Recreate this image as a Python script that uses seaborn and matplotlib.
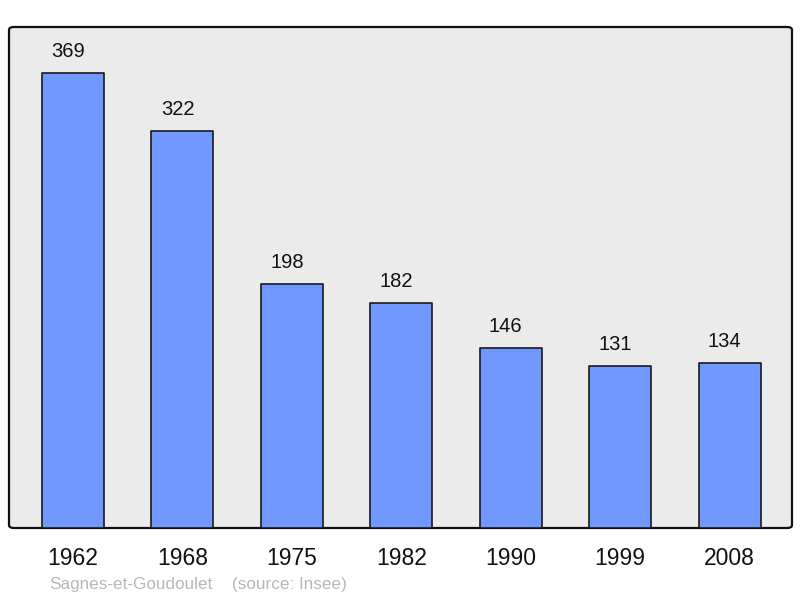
import matplotlib
matplotlib.use("Agg")
import matplotlib.pyplot as plt
import seaborn as sns
import pandas as pd
from matplotlib.patches import FancyBboxPatch

# data
years = ["1962", "1968", "1975", "1982", "1990", "1999", "2008"]
population = [369, 322, 198, 182, 146, 131, 134]
commune = "Sagnes-et-Goudoulet"
source = "(source: Insee)"

df = pd.DataFrame({"year": years, "pop": population})

sns.set_style("white")
plt.rcParams["font.family"] = ["Liberation Sans", "DejaVu Sans"]

fig = plt.figure(figsize=(8, 5.98), dpi=100)
ax = fig.add_axes([9 / 800, 1 - 528 / 598, 783 / 800, 501 / 598])
ax.set_facecolor("none")

# background frame with rounded corners
frame = FancyBboxPatch((0, 0), 1, 1, boxstyle="round,pad=0,rounding_size=0.006",
                       transform=ax.transAxes, facecolor="#ebebeb",
                       edgecolor="#111111", linewidth=1.6, zorder=0, clip_on=False)
ax.add_patch(frame)

sns.barplot(data=df, x="year", y="pop", color="#7098ff", saturation=1,
            width=0.567, edgecolor="#1a1a1a", linewidth=1.2, ax=ax, zorder=2)
for p in ax.patches[1:]:
    p.set_joinstyle("round")

for i, v in enumerate(population):
    ax.text(i - 0.045, v + 17.5, str(v), ha="center", va="center", fontsize=14.5, color="#111111")

ax.set_xlim(-0.585, 6.571)
ax.set_ylim(0, 406)
ax.set_xlabel("")
ax.set_ylabel("")
ax.set_yticks([])
ax.tick_params(axis="x", length=0, pad=14, labelsize=16.5, labelcolor="#111111")
for s in ax.spines.values():
    s.set_visible(False)

fig.text(49 / 800, 1 - 584 / 598, commune, fontsize=12.3, color="#b8b8b8", va="center")
fig.text(232 / 800, 1 - 584 / 598, source, fontsize=12.3, color="#b8b8b8", va="center")

fig.savefig("out.png", dpi=100, facecolor="white")
